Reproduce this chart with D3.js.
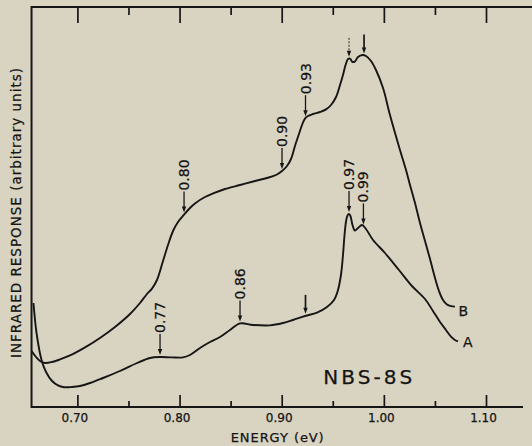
<!DOCTYPE html>
<html>
<head>
<meta charset="utf-8">
<script src="https://cdn.jsdelivr.net/npm/d3@7"></script>
<style>
  html, body { margin: 0; padding: 0; background: #d9d3c1; }
  svg { display: block; }
  text { font-family: "DejaVu Sans", sans-serif; fill: #141414; stroke: #141414; stroke-width: 0.25px; }
</style>
</head>
<body>
<svg id="chart" width="532" height="446"></svg>
<script>
// ---------- data ----------
const energyA = [0.6570,0.6600,0.6649,0.6693,0.6752,0.6810,0.6869,0.6947,0.7026,0.7124,0.7251,0.7417,0.7584,0.7711,0.7809,0.7926,0.8034,0.8102,0.8200,0.8298,0.8396,0.8494,0.8592,0.8719,0.8885,0.9013,0.9111,0.9228,0.9346,0.9443,0.9512,0.9551,0.9580,0.9600,0.9615,0.9629,0.9644,0.9659,0.9673,0.9693,0.9717,0.9747,0.9786,0.9825,0.9894,1.0011,1.0148,1.0275,1.0403,1.0481,1.0550,1.0608,1.0657,1.0696,1.0726];
const responseA = [26.0,18.5,11.75,8.75,6.5,5.4,4.95,5.0,5.25,6.0,7.25,9.0,11.0,12.25,12.5,12.4,12.4,13.0,14.75,16.25,17.5,19.25,20.9,20.5,20.4,21.0,21.75,22.75,23.6,25.0,26.75,29.25,33.0,38.0,43.0,46.25,47.9,48.25,47.75,45.5,44.1,44.75,45.5,44.5,41.75,38.5,34.25,30.25,27.0,24.0,21.25,19.25,17.6,16.75,16.4];

const energyB = [0.6551,0.6595,0.6634,0.6683,0.6752,0.6830,0.6928,0.7075,0.7221,0.7368,0.7515,0.7613,0.7681,0.7730,0.7779,0.7838,0.7887,0.7936,0.7985,0.8044,0.8102,0.8151,0.8249,0.8328,0.8445,0.8592,0.8739,0.8856,0.8944,0.9003,0.9052,0.9091,0.9130,0.9169,0.9199,0.9228,0.9257,0.9306,0.9375,0.9434,0.9483,0.9532,0.9571,0.9600,0.9625,0.9649,0.9669,0.9693,0.9717,0.9747,0.9791,0.9825,0.9874,0.9923,0.9992,1.0060,1.0158,1.0217,1.0256,1.0305,1.0354,1.0403,1.0452,1.0501,1.0540,1.0579,1.0618,1.0657,1.0696];
const responseB = [14.0,12.5,11.5,11.0,11.25,11.9,12.9,14.9,17.25,20.0,23.25,26.0,28.25,29.6,31.75,36.5,40.5,44.0,46.25,48.1,49.75,50.9,52.5,53.4,54.5,55.5,56.5,57.25,58.0,59.0,60.25,62.0,65.25,68.25,70.5,72.1,72.75,73.25,73.75,74.4,75.5,77.5,80.5,83.0,85.5,87.0,87.1,86.25,86.4,87.5,88.0,87.75,86.5,84.25,79.75,73.0,64.25,59.25,55.5,51.0,46.0,41.5,37.0,32.25,29.0,26.75,25.6,25.2,25.1];

const majorTicks = [0.70, 0.80, 0.90, 1.00, 1.10];
const majorTickLabels = ["0.70", "0.80", "0.90", "1.00", "1.10"];
const minorTicks = [0.75, 0.85, 0.95, 1.05];

// arrows: energy where they point, and label text ("" = no label)
const arrowsAEnergy = [0.7809, 0.8592, 0.9233, 0.9659, 0.9800];
const arrowsALabel  = ["0.77", "0.86", "", "0.97", "0.99"];
const arrowsBEnergy = [0.8044, 0.9003, 0.9233, 0.9659, 0.9806];
const arrowsBLabel  = ["0.80", "0.90", "0.93", "", ""];

const seriesNames = ["A", "B"];
const sampleName = "NBS-8S";
const xTitle = "ENERGY (eV)";
const yTitle = "INFRARED RESPONSE (arbitrary units)";

// ---------- drawing ----------
const svg = d3.select("#chart");
const ink = "#161616";

const x = d3.scaleLinear().domain([0.70, 1.10]).range([77.4, 486.0]);
const y = d3.scaleLinear().domain([0, 100]).range([407, 7]);

const xLeft = x(0.6551), yTop = y(100), yBot = y(0);

// frame lines
svg.append("line").attr("x1", xLeft).attr("x2", 532).attr("y1", yTop).attr("y2", yTop)
  .attr("stroke", ink).attr("stroke-width", 2);
svg.append("line").attr("x1", xLeft).attr("x2", x(1.1362)).attr("y1", yBot).attr("y2", yBot)
  .attr("stroke", ink).attr("stroke-width", 2);
svg.append("line").attr("x1", xLeft).attr("x2", xLeft).attr("y1", yTop - 1).attr("y2", yBot + 1)
  .attr("stroke", ink).attr("stroke-width", 2);

function styleAxis(g) {
  g.select(".domain").remove();
  g.selectAll(".tick line").attr("stroke", ink).attr("stroke-width", 1.7);
}

// bottom major ticks with labels
const bottomMajor = svg.append("g").attr("transform", `translate(0,${yBot})`)
  .call(d3.axisBottom(x).tickValues(majorTicks).tickSizeInner(-12).tickSizeOuter(0)
    .tickPadding(6).tickFormat((d, i) => majorTickLabels[i]));
styleAxis(bottomMajor);
bottomMajor.selectAll(".tick text").attr("dx", -3).attr("font-size", 12)
  .attr("font-family", "DejaVu Sans").attr("fill", ink);

const bottomMinor = svg.append("g").attr("transform", `translate(0,${yBot})`)
  .call(d3.axisBottom(x).tickValues(minorTicks).tickSizeInner(-6).tickSizeOuter(0).tickFormat(""));
styleAxis(bottomMinor);

const topMajor = svg.append("g").attr("transform", `translate(0,${yTop})`)
  .call(d3.axisTop(x).tickValues(majorTicks).tickSizeInner(-16).tickSizeOuter(0).tickFormat(""));
styleAxis(topMajor);
const topMinor = svg.append("g").attr("transform", `translate(0,${yTop})`)
  .call(d3.axisTop(x).tickValues(minorTicks).tickSizeInner(-8).tickSizeOuter(0).tickFormat(""));
styleAxis(topMinor);

// axis titles
svg.append("text").attr("x", 230.7).attr("y", 441.7).attr("font-size", 13)
  .attr("textLength", 93).attr("lengthAdjust", "spacing").text(xTitle);
svg.append("text").attr("transform", "translate(20.5,358) rotate(-90)")
  .attr("font-size", 13.5).attr("textLength", 290).attr("lengthAdjust", "spacing").text(yTitle);

// curves
const series = [
  { name: seriesNames[0], e: energyA, v: responseA, dx: 5, dy: 6 },
  { name: seriesNames[1], e: energyB, v: responseB, dx: 3.5, dy: 9 }
];
const line = d3.line().x(d => x(d[0])).y(d => y(d[1])).curve(d3.curveCatmullRom.alpha(0.5));
series.forEach(s => {
  const pts = s.e.map((e, i) => [e, s.v[i]]);
  svg.append("path").attr("d", line(pts)).attr("fill", "none")
    .attr("stroke", ink).attr("stroke-width", 1.9).attr("stroke-linejoin", "round");
  const last = pts[pts.length - 1];
  svg.append("text").attr("x", x(last[0]) + s.dx).attr("y", y(last[1]) + s.dy)
    .attr("font-size", 14).text(s.name);
});

function interp(es, vs, e) {
  for (let i = 0; i < es.length - 1; i++) {
    if (e >= es[i] && e <= es[i + 1]) {
      const t = (e - es[i]) / (es[i + 1] - es[i]);
      return vs[i] + t * (vs[i + 1] - vs[i]);
    }
  }
  return vs[vs.length - 1];
}

function drawArrows(es, vs, arrowE, labels) {
  arrowE.forEach((e, i) => {
    const ax = x(e);
    const tip = y(interp(es, vs, e)) - 2;
    const lab = labels[i];
    const len = lab ? 21 : 19;
    const thin = (!lab && i === 3 && es === energyB);
    svg.append("line").attr("x1", ax).attr("x2", ax).attr("y1", tip - len).attr("y2", tip - 4)
      .attr("stroke", ink).attr("stroke-width", thin ? 0.9 : (lab ? 1.3 : 1.7))
      .attr("stroke-dasharray", thin ? "2,1.5" : null);
    svg.append("path")
      .attr("d", `M${ax},${tip} L${ax - 2.2},${tip - 6} L${ax + 2.2},${tip - 6} Z`)
      .attr("fill", ink);
    if (lab) {
      svg.append("text").attr("transform", `translate(${ax + 5},${tip - len - 1}) rotate(-90)`)
        .attr("font-size", 14).text(lab);
    }
  });
}
drawArrows(energyA, responseA, arrowsAEnergy, arrowsALabel);
drawArrows(energyB, responseB, arrowsBEnergy, arrowsBLabel);

// sample name
svg.append("text").attr("x", 323.3).attr("y", 384).attr("font-size", 20)
  .attr("textLength", 89).attr("lengthAdjust", "spacing").text(sampleName);
</script>
</body>
</html>
